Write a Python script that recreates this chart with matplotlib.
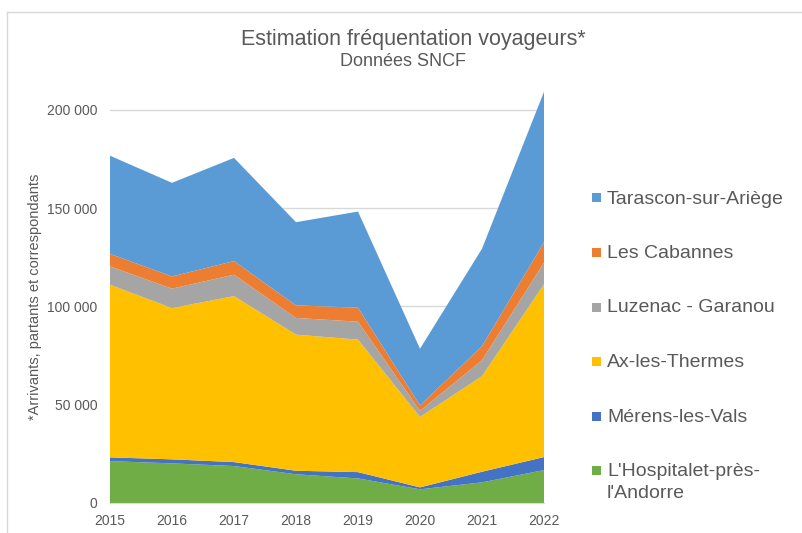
import matplotlib
matplotlib.use("Agg")
import matplotlib.pyplot as plt
from matplotlib.lines import Line2D
from matplotlib.patches import Rectangle
from matplotlib.ticker import FuncFormatter

plt.rcParams['font.family'] = ['Liberation Sans', 'DejaVu Sans']

years = [2015, 2016, 2017, 2018, 2019, 2020, 2021, 2022]

# stacked from bottom to top
hospitalet = [21300, 20150, 18800, 14600, 12500, 6950, 10500, 16750]
merens = [1900, 2050, 2000, 1800, 3200, 1000, 5400, 6600]
ax_thermes = [87800, 76900, 84400, 69200, 67400, 35800, 48600, 87850]
luzenac = [9300, 9900, 10900, 8500, 9100, 3100, 8100, 11000]
cabannes = [6400, 6200, 6900, 6400, 7100, 2800, 7100, 10400]
tarascon = [49900, 47600, 52500, 42300, 48900, 28800, 49600, 76500]

series = [hospitalet, merens, ax_thermes, luzenac, cabannes, tarascon]
labels = ["L'Hospitalet-près-\nl'Andorre", "Mérens-les-Vals", "Ax-les-Thermes",
          "Luzenac - Garanou", "Les Cabannes", "Tarascon-sur-Ariège"]
colors = ["#70AD47", "#4472C4", "#FFC000", "#A5A5A5", "#ED7D31", "#5B9BD5"]

grey = "#595959"
W, H = 803, 533

fig = plt.figure(figsize=(W / 100, H / 100), dpi=100)
ax = fig.add_axes([110 / W, 1 - 503 / H, (544 - 110) / W, (503 - 91) / H])

ax.stackplot(years, *series, colors=colors, linewidth=0)

ax.set_xlim(2015, 2022)
ax.set_ylim(0, 209500)
ax.set_yticks([0, 50000, 100000, 150000, 200000])
ax.yaxis.set_major_formatter(FuncFormatter(lambda v, p: f"{int(v):,}".replace(",", " ")))
ax.set_xticks(years)
ax.grid(axis='y', color="#D9D9D9", linewidth=1)
ax.set_axisbelow(True)
for s in ['top', 'right', 'left']:
    ax.spines[s].set_visible(False)
ax.spines['bottom'].set_color("#D9D9D9")
ax.tick_params(axis='both', length=0, labelsize=10, colors=grey)
ax.tick_params(axis='y', pad=9)
ax.tick_params(axis='x', pad=8)

ax.set_ylabel("*Arrivants, partants et correspondants", fontsize=10.5, color=grey)
ax.yaxis.set_label_coords((42 - 110) / 434, 0.5)

fig.text(413 / W, 1 - 39 / H, "Estimation fréquentation voyageurs*", ha='center', va='center',
         fontsize=15.5, color=grey)
fig.text(403 / W, 1 - 62 / H, "Données SNCF", ha='center', va='center',
         fontsize=13, color=grey)

# legend, top entry first, marker aligned with the first text line
leg_y = [199, 253.5, 308, 362.5, 417, 471.5]
for yy, lab, col in zip(leg_y, labels[::-1], colors[::-1]):
    fig.add_artist(Rectangle((592 / W, 1 - (yy + 3.5) / H), 9 / W, 9 / H,
                             facecolor=col, edgecolor='none', transform=fig.transFigure))
    fig.text(607 / W, 1 - yy / H, lab.split("\n")[0], ha='left', va='center',
             fontsize=14, color=grey)
    if "\n" in lab:
        fig.text(607 / W, 1 - (yy + 22) / H, lab.split("\n")[1], ha='left', va='center',
                 fontsize=14, color=grey)

# chart border (top and left only visible)
fig.add_artist(Line2D([7 / W, 1], [1 - 12 / H, 1 - 12 / H], color="#D9D9D9", linewidth=1))
fig.add_artist(Line2D([7 / W, 7 / W], [0, 1 - 12 / H], color="#D9D9D9", linewidth=1))

fig.savefig("out.png", dpi=100)
